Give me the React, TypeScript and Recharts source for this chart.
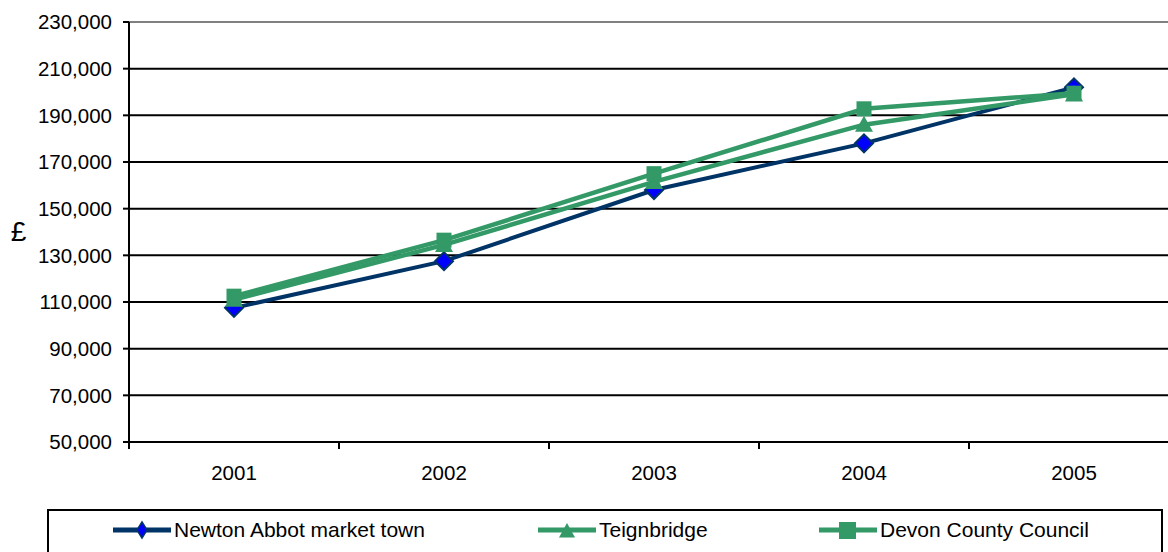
import React from "react";
import { LineChart, Line, XAxis, YAxis, CartesianGrid, Legend, ReferenceLine } from "recharts";

const years = ["2001", "2002", "2003", "2004", "2005"];
const newtonAbbot = [107500, 127500, 158000, 178000, 202000];
const teignbridge = [111000, 134500, 161500, 186000, 199000];
const devon = [112500, 136500, 165000, 192800, 199500];
const yTicks = [50000, 70000, 90000, 110000, 130000, 150000, 170000, 190000, 210000, 230000];
// integer ticks carry the year labels, half ticks are the category boundary marks
const xTicks = [0.5, 1, 1.5, 2, 2.5, 3, 3.5, 4, 4.5, 5, 5.5];

const data = years.map((year, i) => ({
  x: i + 1,
  year,
  newton: newtonAbbot[i],
  teign: teignbridge[i],
  devon: devon[i],
}));

const NAVY = "#003366";
const GREEN = "#339966";
const FONT = "'Liberation Sans', Arial, sans-serif";

function XTick(props: any) {
  const { x, y, payload } = props;
  const v = payload.value;
  if (Number.isInteger(v)) {
    return (
      <text x={x} y={y + 30} textAnchor="middle" dominantBaseline="central" fontSize={20.5} fill="#000" fontFamily={FONT}>
        {years[v - 1]}
      </text>
    );
  }
  return <line x1={x} x2={x} y1={y} y2={y + 7} stroke="#000" strokeWidth={2} />;
}

function diamond(cx: number, cy: number, rx: number, ry: number) {
  return `M${cx},${cy - ry} L${cx + rx},${cy} L${cx},${cy + ry} L${cx - rx},${cy} Z`;
}
function triangle(cx: number, cy: number, r: number) {
  return `M${cx},${cy - r} L${cx + r},${cy + r * 0.8} L${cx - r},${cy + r * 0.8} Z`;
}

const DiamondDot = (p: any) => (
  <path key={`d${p.index}`} d={diamond(p.cx, p.cy, 9, 9)} fill="#0000ff" stroke={NAVY} strokeWidth={2} />
);
const TriangleDot = (p: any) => <path key={`t${p.index}`} d={triangle(p.cx, p.cy, 9)} fill={GREEN} />;
const SquareDot = (p: any) => (
  <rect key={`s${p.index}`} x={p.cx - 7.5} y={p.cy - 7.5} width={15} height={15} fill={GREEN} />
);

const legendLefts: Record<string, number> = { newton: 63, teign: 488, devon: 769 };
const legendOrder = ["newton", "teign", "devon"];

function LegendIcon({ kind, color }: { kind: string; color: string }) {
  return (
    <svg width={60} height={22} style={{ display: "block" }}>
      <line x1={1} x2={59} y1={11} y2={11} stroke={color} strokeWidth={5} />
      {kind === "newton" && <path d={diamond(30, 11, 5, 8)} fill="#0000ff" stroke={NAVY} strokeWidth={1.5} />}
      {kind === "teign" && <path d={triangle(30, 12, 8)} fill={GREEN} />}
      {kind === "devon" && <rect x={21} y={3} width={17} height={17} fill={GREEN} />}
    </svg>
  );
}

function LegendBox(props: any) {
  const items = [...(props.payload || [])].sort(
    (a: any, b: any) => legendOrder.indexOf(a.dataKey) - legendOrder.indexOf(b.dataKey)
  );
  return (
    <div style={{ position: "relative", width: "100%", height: "100%" }}>
      {items.map((it: any) => (
        <div
          key={it.dataKey}
          style={{ position: "absolute", left: legendLefts[it.dataKey], top: 8, display: "flex", alignItems: "center", fontSize: 21, lineHeight: "22px", color: "#000", whiteSpace: "nowrap" }}
        >
          <LegendIcon kind={it.dataKey} color={it.color} />
          <span style={{ marginLeft: 2 }}>{it.value}</span>
        </div>
      ))}
    </div>
  );
}

export default function App() {
  return (
    <div style={{ position: "absolute", left: 0, top: 0, width: 1168, height: 552, overflow: "hidden", background: "#fff", fontFamily: FONT }}>
      <LineChart width={1200} height={552} data={data} margin={{ top: 22, right: 21, left: 0, bottom: 0 }} style={{ fontFamily: FONT }}>
        <CartesianGrid vertical={false} stroke="#000" strokeWidth={2} />
        <ReferenceLine y={230000} stroke="#808080" strokeWidth={2} />
        <XAxis
          dataKey="x"
          type="number"
          domain={[0.5, 5.5]}
          ticks={xTicks}
          interval={0}
          height={110}
          tickSize={0}
          tickMargin={0}
          tickLine={false}
          axisLine={{ stroke: "#000", strokeWidth: 2 }}
          tick={<XTick />}
        />
        <YAxis
          type="number"
          domain={[50000, 230000]}
          ticks={yTicks}
          interval={0}
          width={129}
          tickSize={6}
          tickMargin={11}
          tickLine={{ stroke: "#000", strokeWidth: 2 }}
          axisLine={{ stroke: "#000", strokeWidth: 2 }}
          tick={{ fill: "#000", fontSize: 20.5, fontFamily: FONT }}
          tickFormatter={(v: number) => v.toLocaleString("en-US")}
          label={{
            content: (lp: any) => {
              const vb = lp.viewBox;
              return (
                <text x={vb.x + 18.5} y={vb.y + vb.height / 2 - 1} textAnchor="middle" dominantBaseline="central" fontSize={28} fill="#000" fontFamily={FONT}>
                  £
                </text>
              );
            },
          }}
        />
        <Line dataKey="newton" name="Newton Abbot market town" stroke={NAVY} strokeWidth={4} dot={DiamondDot} isAnimationActive={false} />
        <Line dataKey="teign" name="Teignbridge" stroke={GREEN} strokeWidth={4.5} dot={TriangleDot} isAnimationActive={false} />
        <Line dataKey="devon" name="Devon County Council" stroke={GREEN} strokeWidth={4.5} dot={SquareDot} isAnimationActive={false} />
        <Legend
          layout="horizontal"
          verticalAlign="middle"
          align="center"
          content={<LegendBox />}
          wrapperStyle={{ top: 509, left: 47, width: 1116, height: 60, border: "2px solid #000", boxSizing: "border-box", background: "#fff" }}
        />
      </LineChart>
    </div>
  );
}
